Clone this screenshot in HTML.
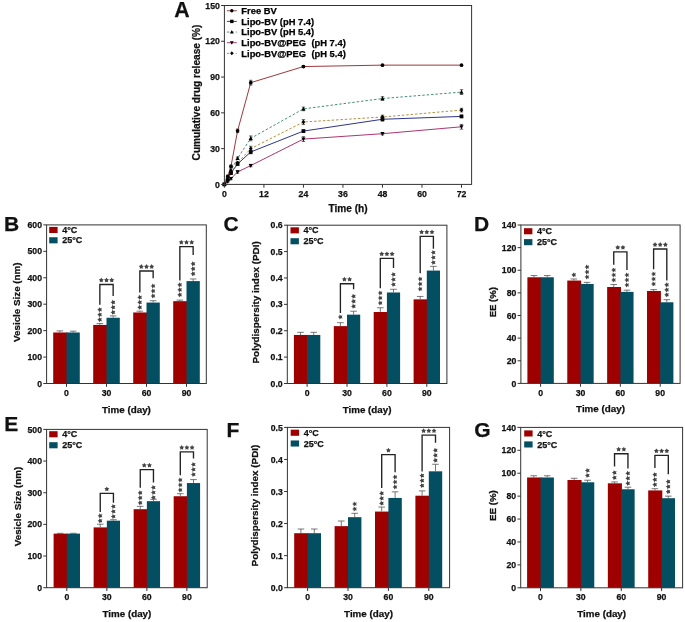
<!DOCTYPE html><html><head><meta charset="utf-8"><style>html,body{margin:0;padding:0;background:#fff;}svg{display:block;font-family:"Liberation Sans", sans-serif;will-change:transform;}</style></head><body>
<svg width="685" height="622" viewBox="0 0 685 622">
<rect width="685" height="622" fill="#fff"/>
<rect x="53.20" y="332.48" width="14.00" height="51.02" fill="#9e0000"/>
<line x1="59.85" y1="332.48" x2="59.85" y2="330.90" stroke="#555" stroke-width="0.8" />
<line x1="56.55" y1="330.90" x2="63.15" y2="330.90" stroke="#555" stroke-width="0.8" />
<rect x="66.50" y="332.48" width="13.30" height="51.02" fill="#044e62"/>
<line x1="73.15" y1="332.48" x2="73.15" y2="331.16" stroke="#555" stroke-width="0.8" />
<line x1="69.85" y1="331.16" x2="76.45" y2="331.16" stroke="#555" stroke-width="0.8" />
<rect x="93.20" y="324.92" width="14.00" height="58.58" fill="#9e0000"/>
<line x1="99.85" y1="324.92" x2="99.85" y2="323.60" stroke="#555" stroke-width="0.8" />
<line x1="96.55" y1="323.60" x2="103.15" y2="323.60" stroke="#555" stroke-width="0.8" />
<rect x="106.50" y="317.76" width="13.30" height="65.74" fill="#044e62"/>
<line x1="113.15" y1="317.76" x2="113.15" y2="315.91" stroke="#555" stroke-width="0.8" />
<line x1="109.85" y1="315.91" x2="116.45" y2="315.91" stroke="#555" stroke-width="0.8" />
<rect x="133.20" y="312.47" width="14.00" height="71.03" fill="#9e0000"/>
<line x1="139.85" y1="312.47" x2="139.85" y2="311.15" stroke="#555" stroke-width="0.8" />
<line x1="136.55" y1="311.15" x2="143.15" y2="311.15" stroke="#555" stroke-width="0.8" />
<rect x="146.50" y="302.56" width="13.30" height="80.94" fill="#044e62"/>
<line x1="153.15" y1="302.56" x2="153.15" y2="300.71" stroke="#555" stroke-width="0.8" />
<line x1="149.85" y1="300.71" x2="156.45" y2="300.71" stroke="#555" stroke-width="0.8" />
<rect x="173.20" y="301.16" width="14.00" height="82.34" fill="#9e0000"/>
<line x1="179.85" y1="301.16" x2="179.85" y2="300.10" stroke="#555" stroke-width="0.8" />
<line x1="176.55" y1="300.10" x2="183.15" y2="300.10" stroke="#555" stroke-width="0.8" />
<rect x="186.50" y="281.10" width="13.30" height="102.40" fill="#044e62"/>
<line x1="193.15" y1="281.10" x2="193.15" y2="278.98" stroke="#555" stroke-width="0.8" />
<line x1="189.85" y1="278.98" x2="196.45" y2="278.98" stroke="#555" stroke-width="0.8" />
<rect x="46.60" y="224.90" width="159.70" height="158.60" fill="none" stroke="#333333" stroke-width="1"/>
<line x1="43.30" y1="383.50" x2="46.60" y2="383.50" stroke="#333333" stroke-width="1" />
<text x="42.00" y="386.60" font-size="8.7" text-anchor="end" font-weight="bold" fill="#111" stroke="#111" stroke-width="0.25" >0</text>
<line x1="43.30" y1="357.07" x2="46.60" y2="357.07" stroke="#333333" stroke-width="1" />
<text x="42.00" y="360.17" font-size="8.7" text-anchor="end" font-weight="bold" fill="#111" stroke="#111" stroke-width="0.25" >100</text>
<line x1="43.30" y1="330.63" x2="46.60" y2="330.63" stroke="#333333" stroke-width="1" />
<text x="42.00" y="333.73" font-size="8.7" text-anchor="end" font-weight="bold" fill="#111" stroke="#111" stroke-width="0.25" >200</text>
<line x1="43.30" y1="304.20" x2="46.60" y2="304.20" stroke="#333333" stroke-width="1" />
<text x="42.00" y="307.30" font-size="8.7" text-anchor="end" font-weight="bold" fill="#111" stroke="#111" stroke-width="0.25" >300</text>
<line x1="43.30" y1="277.77" x2="46.60" y2="277.77" stroke="#333333" stroke-width="1" />
<text x="42.00" y="280.87" font-size="8.7" text-anchor="end" font-weight="bold" fill="#111" stroke="#111" stroke-width="0.25" >400</text>
<line x1="43.30" y1="251.33" x2="46.60" y2="251.33" stroke="#333333" stroke-width="1" />
<text x="42.00" y="254.43" font-size="8.7" text-anchor="end" font-weight="bold" fill="#111" stroke="#111" stroke-width="0.25" >500</text>
<line x1="43.30" y1="224.90" x2="46.60" y2="224.90" stroke="#333333" stroke-width="1" />
<text x="42.00" y="228.00" font-size="8.7" text-anchor="end" font-weight="bold" fill="#111" stroke="#111" stroke-width="0.25" >600</text>
<line x1="66.50" y1="383.50" x2="66.50" y2="386.80" stroke="#333333" stroke-width="1" />
<text x="66.50" y="396.10" font-size="8.7" text-anchor="middle" font-weight="bold" fill="#111" stroke="#111" stroke-width="0.25" >0</text>
<line x1="106.50" y1="383.50" x2="106.50" y2="386.80" stroke="#333333" stroke-width="1" />
<text x="106.50" y="396.10" font-size="8.7" text-anchor="middle" font-weight="bold" fill="#111" stroke="#111" stroke-width="0.25" >30</text>
<line x1="146.50" y1="383.50" x2="146.50" y2="386.80" stroke="#333333" stroke-width="1" />
<text x="146.50" y="396.10" font-size="8.7" text-anchor="middle" font-weight="bold" fill="#111" stroke="#111" stroke-width="0.25" >60</text>
<line x1="186.50" y1="383.50" x2="186.50" y2="386.80" stroke="#333333" stroke-width="1" />
<text x="186.50" y="396.10" font-size="8.7" text-anchor="middle" font-weight="bold" fill="#111" stroke="#111" stroke-width="0.25" >90</text>
<text x="126.45" y="412.50" font-size="9.2" text-anchor="middle" font-weight="bold" fill="#111" stroke="#111" stroke-width="0.25" textLength="48.8" lengthAdjust="spacingAndGlyphs">Time (day)</text>
<text x="19.60" y="302.20" font-size="9.2" text-anchor="middle" font-weight="bold" fill="#111" stroke="#111" stroke-width="0.25" textLength="79.5" lengthAdjust="spacingAndGlyphs" transform="rotate(-90 19.60 302.20)">Vesicle Size (nm)</text>
<rect x="49.20" y="226.90" width="8.40" height="6.10" fill="#9e0000"/>
<rect x="49.20" y="237.25" width="8.40" height="6.10" fill="#044e62"/>
<text x="62.20" y="233.00" font-size="9.0" text-anchor="start" font-weight="bold" fill="#111" stroke="#111" stroke-width="0.25" >4°C</text>
<text x="62.20" y="243.35" font-size="9.0" text-anchor="start" font-weight="bold" fill="#111" stroke="#111" stroke-width="0.25" >25°C</text>
<text x="4.00" y="230.60" font-size="21" text-anchor="start" font-weight="bold" fill="#111" stroke="#111" stroke-width="0.25" >B</text>
<polyline points="99.85,304.80 99.85,284.50 113.15,284.50 113.15,295.90" fill="none" stroke="#222" stroke-width="1.35"/>
<polygon points="101.30,277.60 102.14,279.04 103.77,279.40 102.66,280.64 102.83,282.30 101.30,281.63 99.77,282.30 99.94,280.64 98.83,279.40 100.46,279.04" fill="#444"/>
<polygon points="106.50,277.60 107.34,279.04 108.97,279.40 107.86,280.64 108.03,282.30 106.50,281.63 104.97,282.30 105.14,280.64 104.03,279.40 105.66,279.04" fill="#444"/>
<polygon points="111.70,277.60 112.54,279.04 114.17,279.40 113.06,280.64 113.23,282.30 111.70,281.63 110.17,282.30 110.34,280.64 109.23,279.40 110.86,279.04" fill="#444"/>
<polygon points="97.25,319.70 98.69,318.86 99.05,317.23 100.29,318.34 101.95,318.17 101.28,319.70 101.95,321.23 100.29,321.06 99.05,322.17 98.69,320.54" fill="#444"/>
<polygon points="97.25,314.70 98.69,313.86 99.05,312.23 100.29,313.34 101.95,313.17 101.28,314.70 101.95,316.23 100.29,316.06 99.05,317.17 98.69,315.54" fill="#444"/>
<polygon points="97.25,309.70 98.69,308.86 99.05,307.23 100.29,308.34 101.95,308.17 101.28,309.70 101.95,311.23 100.29,311.06 99.05,312.17 98.69,310.54" fill="#444"/>
<polygon points="110.55,312.30 111.99,311.46 112.35,309.83 113.59,310.94 115.25,310.77 114.58,312.30 115.25,313.83 113.59,313.66 112.35,314.77 111.99,313.14" fill="#444"/>
<polygon points="110.55,307.30 111.99,306.46 112.35,304.83 113.59,305.94 115.25,305.77 114.58,307.30 115.25,308.83 113.59,308.66 112.35,309.77 111.99,308.14" fill="#444"/>
<polygon points="110.55,302.30 111.99,301.46 112.35,299.83 113.59,300.94 115.25,300.77 114.58,302.30 115.25,303.83 113.59,303.66 112.35,304.77 111.99,303.14" fill="#444"/>
<polyline points="139.85,292.40 139.85,271.00 153.15,271.00 153.15,278.30" fill="none" stroke="#222" stroke-width="1.35"/>
<polygon points="141.30,264.10 142.14,265.54 143.77,265.90 142.66,267.14 142.83,268.80 141.30,268.13 139.77,268.80 139.94,267.14 138.83,265.90 140.46,265.54" fill="#444"/>
<polygon points="146.50,264.10 147.34,265.54 148.97,265.90 147.86,267.14 148.03,268.80 146.50,268.13 144.97,268.80 145.14,267.14 144.03,265.90 145.66,265.54" fill="#444"/>
<polygon points="151.70,264.10 152.54,265.54 154.17,265.90 153.06,267.14 153.23,268.80 151.70,268.13 150.17,268.80 150.34,267.14 149.23,265.90 150.86,265.54" fill="#444"/>
<polygon points="137.25,307.30 138.69,306.46 139.05,304.83 140.29,305.94 141.95,305.77 141.28,307.30 141.95,308.83 140.29,308.66 139.05,309.77 138.69,308.14" fill="#444"/>
<polygon points="137.25,302.30 138.69,301.46 139.05,299.83 140.29,300.94 141.95,300.77 141.28,302.30 141.95,303.83 140.29,303.66 139.05,304.77 138.69,303.14" fill="#444"/>
<polygon points="137.25,297.30 138.69,296.46 139.05,294.83 140.29,295.94 141.95,295.77 141.28,297.30 141.95,298.83 140.29,298.66 139.05,299.77 138.69,298.14" fill="#444"/>
<polygon points="150.55,296.00 151.99,295.16 152.35,293.53 153.59,294.64 155.25,294.47 154.58,296.00 155.25,297.53 153.59,297.36 152.35,298.47 151.99,296.84" fill="#444"/>
<polygon points="150.55,291.00 151.99,290.16 152.35,288.53 153.59,289.64 155.25,289.47 154.58,291.00 155.25,292.53 153.59,292.36 152.35,293.47 151.99,291.84" fill="#444"/>
<polygon points="150.55,286.00 151.99,285.16 152.35,283.53 153.59,284.64 155.25,284.47 154.58,286.00 155.25,287.53 153.59,287.36 152.35,288.47 151.99,286.84" fill="#444"/>
<polyline points="179.85,280.40 179.85,246.60 193.15,246.60 193.15,254.90" fill="none" stroke="#222" stroke-width="1.35"/>
<polygon points="181.30,239.70 182.14,241.14 183.77,241.50 182.66,242.74 182.83,244.40 181.30,243.73 179.77,244.40 179.94,242.74 178.83,241.50 180.46,241.14" fill="#444"/>
<polygon points="186.50,239.70 187.34,241.14 188.97,241.50 187.86,242.74 188.03,244.40 186.50,243.73 184.97,244.40 185.14,242.74 184.03,241.50 185.66,241.14" fill="#444"/>
<polygon points="191.70,239.70 192.54,241.14 194.17,241.50 193.06,242.74 193.23,244.40 191.70,243.73 190.17,244.40 190.34,242.74 189.23,241.50 190.86,241.14" fill="#444"/>
<polygon points="177.25,294.80 178.69,293.96 179.05,292.33 180.29,293.44 181.95,293.27 181.28,294.80 181.95,296.33 180.29,296.16 179.05,297.27 178.69,295.64" fill="#444"/>
<polygon points="177.25,289.80 178.69,288.96 179.05,287.33 180.29,288.44 181.95,288.27 181.28,289.80 181.95,291.33 180.29,291.16 179.05,292.27 178.69,290.64" fill="#444"/>
<polygon points="177.25,284.80 178.69,283.96 179.05,282.33 180.29,283.44 181.95,283.27 181.28,284.80 181.95,286.33 180.29,286.16 179.05,287.27 178.69,285.64" fill="#444"/>
<polygon points="190.55,273.80 191.99,272.96 192.35,271.33 193.59,272.44 195.25,272.27 194.58,273.80 195.25,275.33 193.59,275.16 192.35,276.27 191.99,274.64" fill="#444"/>
<polygon points="190.55,268.80 191.99,267.96 192.35,266.33 193.59,267.44 195.25,267.27 194.58,268.80 195.25,270.33 193.59,270.16 192.35,271.27 191.99,269.64" fill="#444"/>
<polygon points="190.55,263.80 191.99,262.96 192.35,261.33 193.59,262.44 195.25,262.27 194.58,263.80 195.25,265.33 193.59,265.16 192.35,266.27 191.99,264.64" fill="#444"/>
<rect x="293.90" y="334.95" width="13.90" height="48.55" fill="#9e0000"/>
<line x1="300.50" y1="334.95" x2="300.50" y2="332.32" stroke="#555" stroke-width="0.8" />
<line x1="297.20" y1="332.32" x2="303.80" y2="332.32" stroke="#555" stroke-width="0.8" />
<rect x="307.10" y="334.95" width="13.20" height="48.55" fill="#044e62"/>
<line x1="313.70" y1="334.95" x2="313.70" y2="332.32" stroke="#555" stroke-width="0.8" />
<line x1="310.40" y1="332.32" x2="317.00" y2="332.32" stroke="#555" stroke-width="0.8" />
<rect x="333.80" y="326.12" width="13.90" height="57.38" fill="#9e0000"/>
<line x1="340.40" y1="326.12" x2="340.40" y2="322.69" stroke="#555" stroke-width="0.8" />
<line x1="337.10" y1="322.69" x2="343.70" y2="322.69" stroke="#555" stroke-width="0.8" />
<rect x="347.00" y="314.64" width="13.20" height="68.86" fill="#044e62"/>
<line x1="353.60" y1="314.64" x2="353.60" y2="311.21" stroke="#555" stroke-width="0.8" />
<line x1="350.30" y1="311.21" x2="356.90" y2="311.21" stroke="#555" stroke-width="0.8" />
<rect x="373.70" y="312.00" width="13.90" height="71.50" fill="#9e0000"/>
<line x1="380.30" y1="312.00" x2="380.30" y2="307.78" stroke="#555" stroke-width="0.8" />
<line x1="377.00" y1="307.78" x2="383.60" y2="307.78" stroke="#555" stroke-width="0.8" />
<rect x="386.90" y="292.48" width="13.20" height="91.02" fill="#044e62"/>
<line x1="393.50" y1="292.48" x2="393.50" y2="289.31" stroke="#555" stroke-width="0.8" />
<line x1="390.20" y1="289.31" x2="396.80" y2="289.31" stroke="#555" stroke-width="0.8" />
<rect x="413.60" y="299.34" width="13.90" height="84.16" fill="#9e0000"/>
<line x1="420.20" y1="299.34" x2="420.20" y2="296.44" stroke="#555" stroke-width="0.8" />
<line x1="416.90" y1="296.44" x2="423.50" y2="296.44" stroke="#555" stroke-width="0.8" />
<rect x="426.80" y="270.58" width="13.20" height="112.92" fill="#044e62"/>
<line x1="433.40" y1="270.58" x2="433.40" y2="266.36" stroke="#555" stroke-width="0.8" />
<line x1="430.10" y1="266.36" x2="436.70" y2="266.36" stroke="#555" stroke-width="0.8" />
<rect x="287.30" y="225.20" width="159.60" height="158.30" fill="none" stroke="#333333" stroke-width="1"/>
<line x1="284.00" y1="383.50" x2="287.30" y2="383.50" stroke="#333333" stroke-width="1" />
<text x="282.70" y="386.60" font-size="8.7" text-anchor="end" font-weight="bold" fill="#111" stroke="#111" stroke-width="0.25" >0.0</text>
<line x1="284.00" y1="357.12" x2="287.30" y2="357.12" stroke="#333333" stroke-width="1" />
<text x="282.70" y="360.22" font-size="8.7" text-anchor="end" font-weight="bold" fill="#111" stroke="#111" stroke-width="0.25" >0.1</text>
<line x1="284.00" y1="330.73" x2="287.30" y2="330.73" stroke="#333333" stroke-width="1" />
<text x="282.70" y="333.83" font-size="8.7" text-anchor="end" font-weight="bold" fill="#111" stroke="#111" stroke-width="0.25" >0.2</text>
<line x1="284.00" y1="304.35" x2="287.30" y2="304.35" stroke="#333333" stroke-width="1" />
<text x="282.70" y="307.45" font-size="8.7" text-anchor="end" font-weight="bold" fill="#111" stroke="#111" stroke-width="0.25" >0.3</text>
<line x1="284.00" y1="277.97" x2="287.30" y2="277.97" stroke="#333333" stroke-width="1" />
<text x="282.70" y="281.07" font-size="8.7" text-anchor="end" font-weight="bold" fill="#111" stroke="#111" stroke-width="0.25" >0.4</text>
<line x1="284.00" y1="251.58" x2="287.30" y2="251.58" stroke="#333333" stroke-width="1" />
<text x="282.70" y="254.68" font-size="8.7" text-anchor="end" font-weight="bold" fill="#111" stroke="#111" stroke-width="0.25" >0.5</text>
<line x1="284.00" y1="225.20" x2="287.30" y2="225.20" stroke="#333333" stroke-width="1" />
<text x="282.70" y="228.30" font-size="8.7" text-anchor="end" font-weight="bold" fill="#111" stroke="#111" stroke-width="0.25" >0.6</text>
<line x1="307.10" y1="383.50" x2="307.10" y2="386.80" stroke="#333333" stroke-width="1" />
<text x="307.10" y="396.10" font-size="8.7" text-anchor="middle" font-weight="bold" fill="#111" stroke="#111" stroke-width="0.25" >0</text>
<line x1="347.00" y1="383.50" x2="347.00" y2="386.80" stroke="#333333" stroke-width="1" />
<text x="347.00" y="396.10" font-size="8.7" text-anchor="middle" font-weight="bold" fill="#111" stroke="#111" stroke-width="0.25" >30</text>
<line x1="386.90" y1="383.50" x2="386.90" y2="386.80" stroke="#333333" stroke-width="1" />
<text x="386.90" y="396.10" font-size="8.7" text-anchor="middle" font-weight="bold" fill="#111" stroke="#111" stroke-width="0.25" >60</text>
<line x1="426.80" y1="383.50" x2="426.80" y2="386.80" stroke="#333333" stroke-width="1" />
<text x="426.80" y="396.10" font-size="8.7" text-anchor="middle" font-weight="bold" fill="#111" stroke="#111" stroke-width="0.25" >90</text>
<text x="367.10" y="412.50" font-size="9.2" text-anchor="middle" font-weight="bold" fill="#111" stroke="#111" stroke-width="0.25" textLength="48.8" lengthAdjust="spacingAndGlyphs">Time (day)</text>
<text x="259.30" y="302.35" font-size="9.2" text-anchor="middle" font-weight="bold" fill="#111" stroke="#111" stroke-width="0.25" textLength="122.3" lengthAdjust="spacingAndGlyphs" transform="rotate(-90 259.30 302.35)">Polydispersity index (PDI)</text>
<rect x="290.50" y="227.30" width="8.40" height="6.10" fill="#9e0000"/>
<rect x="290.50" y="238.20" width="8.40" height="6.10" fill="#044e62"/>
<text x="303.50" y="233.40" font-size="9.0" text-anchor="start" font-weight="bold" fill="#111" stroke="#111" stroke-width="0.25" >4°C</text>
<text x="303.50" y="244.30" font-size="9.0" text-anchor="start" font-weight="bold" fill="#111" stroke="#111" stroke-width="0.25" >25°C</text>
<text x="223.50" y="231.00" font-size="21" text-anchor="start" font-weight="bold" fill="#111" stroke="#111" stroke-width="0.25" >C</text>
<polyline points="340.40,312.90 340.40,283.70 353.60,283.70 353.60,289.20" fill="none" stroke="#222" stroke-width="1.35"/>
<polygon points="344.40,276.80 345.24,278.24 346.87,278.60 345.76,279.84 345.93,281.50 344.40,280.83 342.87,281.50 343.04,279.84 341.93,278.60 343.56,278.24" fill="#444"/>
<polygon points="349.60,276.80 350.44,278.24 352.07,278.60 350.96,279.84 351.13,281.50 349.60,280.83 348.07,281.50 348.24,279.84 347.13,278.60 348.76,278.24" fill="#444"/>
<polygon points="337.80,317.00 339.24,316.16 339.60,314.53 340.84,315.64 342.50,315.47 341.83,317.00 342.50,318.53 340.84,318.36 339.60,319.47 339.24,317.84" fill="#444"/>
<polygon points="351.00,306.30 352.44,305.46 352.80,303.83 354.04,304.94 355.70,304.77 355.03,306.30 355.70,307.83 354.04,307.66 352.80,308.77 352.44,307.14" fill="#444"/>
<polygon points="351.00,301.30 352.44,300.46 352.80,298.83 354.04,299.94 355.70,299.77 355.03,301.30 355.70,302.83 354.04,302.66 352.80,303.77 352.44,302.14" fill="#444"/>
<polygon points="351.00,296.30 352.44,295.46 352.80,293.83 354.04,294.94 355.70,294.77 355.03,296.30 355.70,297.83 354.04,297.66 352.80,298.77 352.44,297.14" fill="#444"/>
<polyline points="380.30,288.30 380.30,258.30 393.50,258.30 393.50,268.00" fill="none" stroke="#222" stroke-width="1.35"/>
<polygon points="381.70,251.40 382.54,252.84 384.17,253.20 383.06,254.44 383.23,256.10 381.70,255.43 380.17,256.10 380.34,254.44 379.23,253.20 380.86,252.84" fill="#444"/>
<polygon points="386.90,251.40 387.74,252.84 389.37,253.20 388.26,254.44 388.43,256.10 386.90,255.43 385.37,256.10 385.54,254.44 384.43,253.20 386.06,252.84" fill="#444"/>
<polygon points="392.10,251.40 392.94,252.84 394.57,253.20 393.46,254.44 393.63,256.10 392.10,255.43 390.57,256.10 390.74,254.44 389.63,253.20 391.26,252.84" fill="#444"/>
<polygon points="377.70,303.00 379.14,302.16 379.50,300.53 380.74,301.64 382.40,301.47 381.73,303.00 382.40,304.53 380.74,304.36 379.50,305.47 379.14,303.84" fill="#444"/>
<polygon points="377.70,298.00 379.14,297.16 379.50,295.53 380.74,296.64 382.40,296.47 381.73,298.00 382.40,299.53 380.74,299.36 379.50,300.47 379.14,298.84" fill="#444"/>
<polygon points="377.70,293.00 379.14,292.16 379.50,290.53 380.74,291.64 382.40,291.47 381.73,293.00 382.40,294.53 380.74,294.36 379.50,295.47 379.14,293.84" fill="#444"/>
<polygon points="390.90,284.50 392.34,283.66 392.70,282.03 393.94,283.14 395.60,282.97 394.93,284.50 395.60,286.03 393.94,285.86 392.70,286.97 392.34,285.34" fill="#444"/>
<polygon points="390.90,279.50 392.34,278.66 392.70,277.03 393.94,278.14 395.60,277.97 394.93,279.50 395.60,281.03 393.94,280.86 392.70,281.97 392.34,280.34" fill="#444"/>
<polygon points="390.90,274.50 392.34,273.66 392.70,272.03 393.94,273.14 395.60,272.97 394.93,274.50 395.60,276.03 393.94,275.86 392.70,276.97 392.34,275.34" fill="#444"/>
<polyline points="420.20,273.30 420.20,236.40 433.40,236.40 433.40,248.70" fill="none" stroke="#222" stroke-width="1.35"/>
<polygon points="421.60,229.50 422.44,230.94 424.07,231.30 422.96,232.54 423.13,234.20 421.60,233.53 420.07,234.20 420.24,232.54 419.13,231.30 420.76,230.94" fill="#444"/>
<polygon points="426.80,229.50 427.64,230.94 429.27,231.30 428.16,232.54 428.33,234.20 426.80,233.53 425.27,234.20 425.44,232.54 424.33,231.30 425.96,230.94" fill="#444"/>
<polygon points="432.00,229.50 432.84,230.94 434.47,231.30 433.36,232.54 433.53,234.20 432.00,233.53 430.47,234.20 430.64,232.54 429.53,231.30 431.16,230.94" fill="#444"/>
<polygon points="417.60,289.00 419.04,288.16 419.40,286.53 420.64,287.64 422.30,287.47 421.63,289.00 422.30,290.53 420.64,290.36 419.40,291.47 419.04,289.84" fill="#444"/>
<polygon points="417.60,284.00 419.04,283.16 419.40,281.53 420.64,282.64 422.30,282.47 421.63,284.00 422.30,285.53 420.64,285.36 419.40,286.47 419.04,284.84" fill="#444"/>
<polygon points="417.60,279.00 419.04,278.16 419.40,276.53 420.64,277.64 422.30,277.47 421.63,279.00 422.30,280.53 420.64,280.36 419.40,281.47 419.04,279.84" fill="#444"/>
<polygon points="430.80,262.50 432.24,261.66 432.60,260.03 433.84,261.14 435.50,260.97 434.83,262.50 435.50,264.03 433.84,263.86 432.60,264.97 432.24,263.34" fill="#444"/>
<polygon points="430.80,257.50 432.24,256.66 432.60,255.03 433.84,256.14 435.50,255.97 434.83,257.50 435.50,259.03 433.84,258.86 432.60,259.97 432.24,258.34" fill="#444"/>
<polygon points="430.80,252.50 432.24,251.66 432.60,250.03 433.84,251.14 435.50,250.97 434.83,252.50 435.50,254.03 433.84,253.86 432.60,254.97 432.24,253.34" fill="#444"/>
<rect x="527.40" y="277.27" width="13.90" height="106.13" fill="#9e0000"/>
<line x1="534.00" y1="277.27" x2="534.00" y2="275.57" stroke="#555" stroke-width="0.8" />
<line x1="530.70" y1="275.57" x2="537.30" y2="275.57" stroke="#555" stroke-width="0.8" />
<rect x="540.60" y="277.27" width="13.20" height="106.13" fill="#044e62"/>
<line x1="547.20" y1="277.27" x2="547.20" y2="275.57" stroke="#555" stroke-width="0.8" />
<line x1="543.90" y1="275.57" x2="550.50" y2="275.57" stroke="#555" stroke-width="0.8" />
<rect x="567.27" y="280.55" width="13.90" height="102.85" fill="#9e0000"/>
<line x1="573.87" y1="280.55" x2="573.87" y2="278.97" stroke="#555" stroke-width="0.8" />
<line x1="570.57" y1="278.97" x2="577.17" y2="278.97" stroke="#555" stroke-width="0.8" />
<rect x="580.47" y="283.95" width="13.20" height="99.45" fill="#044e62"/>
<line x1="587.07" y1="283.95" x2="587.07" y2="282.36" stroke="#555" stroke-width="0.8" />
<line x1="583.77" y1="282.36" x2="590.37" y2="282.36" stroke="#555" stroke-width="0.8" />
<rect x="607.14" y="287.00" width="13.90" height="96.40" fill="#9e0000"/>
<line x1="613.74" y1="287.00" x2="613.74" y2="284.51" stroke="#555" stroke-width="0.8" />
<line x1="610.44" y1="284.51" x2="617.04" y2="284.51" stroke="#555" stroke-width="0.8" />
<rect x="620.34" y="291.87" width="13.20" height="91.53" fill="#044e62"/>
<line x1="626.94" y1="291.87" x2="626.94" y2="290.17" stroke="#555" stroke-width="0.8" />
<line x1="623.64" y1="290.17" x2="630.24" y2="290.17" stroke="#555" stroke-width="0.8" />
<rect x="647.01" y="290.96" width="13.90" height="92.44" fill="#9e0000"/>
<line x1="653.61" y1="290.96" x2="653.61" y2="289.60" stroke="#555" stroke-width="0.8" />
<line x1="650.31" y1="289.60" x2="656.91" y2="289.60" stroke="#555" stroke-width="0.8" />
<rect x="660.21" y="302.28" width="13.20" height="81.12" fill="#044e62"/>
<line x1="666.81" y1="302.28" x2="666.81" y2="299.67" stroke="#555" stroke-width="0.8" />
<line x1="663.51" y1="299.67" x2="670.11" y2="299.67" stroke="#555" stroke-width="0.8" />
<rect x="520.90" y="225.00" width="159.20" height="158.40" fill="none" stroke="#333333" stroke-width="1"/>
<line x1="517.60" y1="383.40" x2="520.90" y2="383.40" stroke="#333333" stroke-width="1" />
<text x="516.30" y="386.50" font-size="8.7" text-anchor="end" font-weight="bold" fill="#111" stroke="#111" stroke-width="0.25" >0</text>
<line x1="517.60" y1="360.77" x2="520.90" y2="360.77" stroke="#333333" stroke-width="1" />
<text x="516.30" y="363.87" font-size="8.7" text-anchor="end" font-weight="bold" fill="#111" stroke="#111" stroke-width="0.25" >20</text>
<line x1="517.60" y1="338.14" x2="520.90" y2="338.14" stroke="#333333" stroke-width="1" />
<text x="516.30" y="341.24" font-size="8.7" text-anchor="end" font-weight="bold" fill="#111" stroke="#111" stroke-width="0.25" >40</text>
<line x1="517.60" y1="315.51" x2="520.90" y2="315.51" stroke="#333333" stroke-width="1" />
<text x="516.30" y="318.61" font-size="8.7" text-anchor="end" font-weight="bold" fill="#111" stroke="#111" stroke-width="0.25" >60</text>
<line x1="517.60" y1="292.89" x2="520.90" y2="292.89" stroke="#333333" stroke-width="1" />
<text x="516.30" y="295.99" font-size="8.7" text-anchor="end" font-weight="bold" fill="#111" stroke="#111" stroke-width="0.25" >80</text>
<line x1="517.60" y1="270.26" x2="520.90" y2="270.26" stroke="#333333" stroke-width="1" />
<text x="516.30" y="273.36" font-size="8.7" text-anchor="end" font-weight="bold" fill="#111" stroke="#111" stroke-width="0.25" >100</text>
<line x1="517.60" y1="247.63" x2="520.90" y2="247.63" stroke="#333333" stroke-width="1" />
<text x="516.30" y="250.73" font-size="8.7" text-anchor="end" font-weight="bold" fill="#111" stroke="#111" stroke-width="0.25" >120</text>
<line x1="517.60" y1="225.00" x2="520.90" y2="225.00" stroke="#333333" stroke-width="1" />
<text x="516.30" y="228.10" font-size="8.7" text-anchor="end" font-weight="bold" fill="#111" stroke="#111" stroke-width="0.25" >140</text>
<line x1="540.60" y1="383.40" x2="540.60" y2="386.70" stroke="#333333" stroke-width="1" />
<text x="540.60" y="396.00" font-size="8.7" text-anchor="middle" font-weight="bold" fill="#111" stroke="#111" stroke-width="0.25" >0</text>
<line x1="580.47" y1="383.40" x2="580.47" y2="386.70" stroke="#333333" stroke-width="1" />
<text x="580.47" y="396.00" font-size="8.7" text-anchor="middle" font-weight="bold" fill="#111" stroke="#111" stroke-width="0.25" >30</text>
<line x1="620.34" y1="383.40" x2="620.34" y2="386.70" stroke="#333333" stroke-width="1" />
<text x="620.34" y="396.00" font-size="8.7" text-anchor="middle" font-weight="bold" fill="#111" stroke="#111" stroke-width="0.25" >60</text>
<line x1="660.21" y1="383.40" x2="660.21" y2="386.70" stroke="#333333" stroke-width="1" />
<text x="660.21" y="396.00" font-size="8.7" text-anchor="middle" font-weight="bold" fill="#111" stroke="#111" stroke-width="0.25" >90</text>
<text x="600.50" y="412.40" font-size="9.2" text-anchor="middle" font-weight="bold" fill="#111" stroke="#111" stroke-width="0.25" textLength="48.8" lengthAdjust="spacingAndGlyphs">Time (day)</text>
<text x="496.00" y="302.20" font-size="9.2" text-anchor="middle" font-weight="bold" fill="#111" stroke="#111" stroke-width="0.25" textLength="30.3" lengthAdjust="spacingAndGlyphs" transform="rotate(-90 496.00 302.20)">EE (%)</text>
<rect x="524.00" y="228.20" width="8.40" height="6.10" fill="#9e0000"/>
<rect x="524.00" y="239.10" width="8.40" height="6.10" fill="#044e62"/>
<text x="537.00" y="234.30" font-size="9.0" text-anchor="start" font-weight="bold" fill="#111" stroke="#111" stroke-width="0.25" >4°C</text>
<text x="537.00" y="245.20" font-size="9.0" text-anchor="start" font-weight="bold" fill="#111" stroke="#111" stroke-width="0.25" >25°C</text>
<text x="474.00" y="230.80" font-size="21" text-anchor="start" font-weight="bold" fill="#111" stroke="#111" stroke-width="0.25" >D</text>
<polygon points="571.27,274.90 572.71,274.06 573.07,272.43 574.31,273.54 575.97,273.37 575.30,274.90 575.97,276.43 574.31,276.26 573.07,277.37 572.71,275.74" fill="#444"/>
<polygon points="584.47,277.00 585.91,276.16 586.27,274.53 587.51,275.64 589.17,275.47 588.50,277.00 589.17,278.53 587.51,278.36 586.27,279.47 585.91,277.84" fill="#444"/>
<polygon points="584.47,272.00 585.91,271.16 586.27,269.53 587.51,270.64 589.17,270.47 588.50,272.00 589.17,273.53 587.51,273.36 586.27,274.47 585.91,272.84" fill="#444"/>
<polygon points="584.47,267.00 585.91,266.16 586.27,264.53 587.51,265.64 589.17,265.47 588.50,267.00 589.17,268.53 587.51,268.36 586.27,269.47 585.91,267.84" fill="#444"/>
<polyline points="613.74,264.80 613.74,251.80 626.94,251.80 626.94,270.00" fill="none" stroke="#222" stroke-width="1.35"/>
<polygon points="617.74,244.90 618.58,246.34 620.21,246.70 619.10,247.94 619.27,249.60 617.74,248.93 616.21,249.60 616.38,247.94 615.27,246.70 616.90,246.34" fill="#444"/>
<polygon points="622.94,244.90 623.78,246.34 625.41,246.70 624.30,247.94 624.47,249.60 622.94,248.93 621.41,249.60 621.58,247.94 620.47,246.70 622.10,246.34" fill="#444"/>
<polygon points="611.14,280.00 612.58,279.16 612.94,277.53 614.18,278.64 615.84,278.47 615.17,280.00 615.84,281.53 614.18,281.36 612.94,282.47 612.58,280.84" fill="#444"/>
<polygon points="611.14,275.00 612.58,274.16 612.94,272.53 614.18,273.64 615.84,273.47 615.17,275.00 615.84,276.53 614.18,276.36 612.94,277.47 612.58,275.84" fill="#444"/>
<polygon points="611.14,270.00 612.58,269.16 612.94,267.53 614.18,268.64 615.84,268.47 615.17,270.00 615.84,271.53 614.18,271.36 612.94,272.47 612.58,270.84" fill="#444"/>
<polygon points="624.34,285.00 625.78,284.16 626.14,282.53 627.38,283.64 629.04,283.47 628.37,285.00 629.04,286.53 627.38,286.36 626.14,287.47 625.78,285.84" fill="#444"/>
<polygon points="624.34,280.00 625.78,279.16 626.14,277.53 627.38,278.64 629.04,278.47 628.37,280.00 629.04,281.53 627.38,281.36 626.14,282.47 625.78,280.84" fill="#444"/>
<polygon points="624.34,275.00 625.78,274.16 626.14,272.53 627.38,273.64 629.04,273.47 628.37,275.00 629.04,276.53 627.38,276.36 626.14,277.47 625.78,275.84" fill="#444"/>
<polyline points="653.61,269.20 653.61,249.00 666.81,249.00 666.81,280.50" fill="none" stroke="#222" stroke-width="1.35"/>
<polygon points="655.01,242.10 655.85,243.54 657.48,243.90 656.37,245.14 656.54,246.80 655.01,246.13 653.48,246.80 653.65,245.14 652.54,243.90 654.17,243.54" fill="#444"/>
<polygon points="660.21,242.10 661.05,243.54 662.68,243.90 661.57,245.14 661.74,246.80 660.21,246.13 658.68,246.80 658.85,245.14 657.74,243.90 659.37,243.54" fill="#444"/>
<polygon points="665.41,242.10 666.25,243.54 667.88,243.90 666.77,245.14 666.94,246.80 665.41,246.13 663.88,246.80 664.05,245.14 662.94,243.90 664.57,243.54" fill="#444"/>
<polygon points="651.01,284.00 652.45,283.16 652.81,281.53 654.05,282.64 655.71,282.47 655.04,284.00 655.71,285.53 654.05,285.36 652.81,286.47 652.45,284.84" fill="#444"/>
<polygon points="651.01,279.00 652.45,278.16 652.81,276.53 654.05,277.64 655.71,277.47 655.04,279.00 655.71,280.53 654.05,280.36 652.81,281.47 652.45,279.84" fill="#444"/>
<polygon points="651.01,274.00 652.45,273.16 652.81,271.53 654.05,272.64 655.71,272.47 655.04,274.00 655.71,275.53 654.05,275.36 652.81,276.47 652.45,274.84" fill="#444"/>
<polygon points="664.21,294.80 665.65,293.96 666.01,292.33 667.25,293.44 668.91,293.27 668.24,294.80 668.91,296.33 667.25,296.16 666.01,297.27 665.65,295.64" fill="#444"/>
<polygon points="664.21,289.80 665.65,288.96 666.01,287.33 667.25,288.44 668.91,288.27 668.24,289.80 668.91,291.33 667.25,291.16 666.01,292.27 665.65,290.64" fill="#444"/>
<polygon points="664.21,284.80 665.65,283.96 666.01,282.33 667.25,283.44 668.91,283.27 668.24,284.80 668.91,286.33 667.25,286.16 666.01,287.27 665.65,285.64" fill="#444"/>
<rect x="53.60" y="533.62" width="13.90" height="54.08" fill="#9e0000"/>
<line x1="60.20" y1="533.62" x2="60.20" y2="533.31" stroke="#555" stroke-width="0.8" />
<line x1="56.90" y1="533.31" x2="63.50" y2="533.31" stroke="#555" stroke-width="0.8" />
<rect x="66.80" y="533.62" width="13.20" height="54.08" fill="#044e62"/>
<line x1="73.40" y1="533.62" x2="73.40" y2="533.31" stroke="#555" stroke-width="0.8" />
<line x1="70.10" y1="533.31" x2="76.70" y2="533.31" stroke="#555" stroke-width="0.8" />
<rect x="93.63" y="527.39" width="13.90" height="60.31" fill="#9e0000"/>
<line x1="100.23" y1="527.39" x2="100.23" y2="524.22" stroke="#555" stroke-width="0.8" />
<line x1="96.93" y1="524.22" x2="103.53" y2="524.22" stroke="#555" stroke-width="0.8" />
<rect x="106.83" y="520.68" width="13.20" height="67.02" fill="#044e62"/>
<line x1="113.43" y1="520.68" x2="113.43" y2="519.73" stroke="#555" stroke-width="0.8" />
<line x1="110.13" y1="519.73" x2="116.73" y2="519.73" stroke="#555" stroke-width="0.8" />
<rect x="133.66" y="509.18" width="13.90" height="78.52" fill="#9e0000"/>
<line x1="140.26" y1="509.18" x2="140.26" y2="506.33" stroke="#555" stroke-width="0.8" />
<line x1="136.96" y1="506.33" x2="143.56" y2="506.33" stroke="#555" stroke-width="0.8" />
<rect x="146.86" y="501.17" width="13.20" height="86.53" fill="#044e62"/>
<line x1="153.46" y1="501.17" x2="153.46" y2="499.27" stroke="#555" stroke-width="0.8" />
<line x1="150.16" y1="499.27" x2="156.76" y2="499.27" stroke="#555" stroke-width="0.8" />
<rect x="173.69" y="496.23" width="13.90" height="91.47" fill="#9e0000"/>
<line x1="180.29" y1="496.23" x2="180.29" y2="493.70" stroke="#555" stroke-width="0.8" />
<line x1="176.99" y1="493.70" x2="183.59" y2="493.70" stroke="#555" stroke-width="0.8" />
<rect x="186.89" y="483.06" width="13.20" height="104.64" fill="#044e62"/>
<line x1="193.49" y1="483.06" x2="193.49" y2="479.58" stroke="#555" stroke-width="0.8" />
<line x1="190.19" y1="479.58" x2="196.79" y2="479.58" stroke="#555" stroke-width="0.8" />
<rect x="46.60" y="429.40" width="160.60" height="158.30" fill="none" stroke="#333333" stroke-width="1"/>
<line x1="43.30" y1="587.70" x2="46.60" y2="587.70" stroke="#333333" stroke-width="1" />
<text x="42.00" y="590.80" font-size="8.7" text-anchor="end" font-weight="bold" fill="#111" stroke="#111" stroke-width="0.25" >0</text>
<line x1="43.30" y1="556.04" x2="46.60" y2="556.04" stroke="#333333" stroke-width="1" />
<text x="42.00" y="559.14" font-size="8.7" text-anchor="end" font-weight="bold" fill="#111" stroke="#111" stroke-width="0.25" >100</text>
<line x1="43.30" y1="524.38" x2="46.60" y2="524.38" stroke="#333333" stroke-width="1" />
<text x="42.00" y="527.48" font-size="8.7" text-anchor="end" font-weight="bold" fill="#111" stroke="#111" stroke-width="0.25" >200</text>
<line x1="43.30" y1="492.72" x2="46.60" y2="492.72" stroke="#333333" stroke-width="1" />
<text x="42.00" y="495.82" font-size="8.7" text-anchor="end" font-weight="bold" fill="#111" stroke="#111" stroke-width="0.25" >300</text>
<line x1="43.30" y1="461.06" x2="46.60" y2="461.06" stroke="#333333" stroke-width="1" />
<text x="42.00" y="464.16" font-size="8.7" text-anchor="end" font-weight="bold" fill="#111" stroke="#111" stroke-width="0.25" >400</text>
<line x1="43.30" y1="429.40" x2="46.60" y2="429.40" stroke="#333333" stroke-width="1" />
<text x="42.00" y="432.50" font-size="8.7" text-anchor="end" font-weight="bold" fill="#111" stroke="#111" stroke-width="0.25" >500</text>
<line x1="66.80" y1="587.70" x2="66.80" y2="591.00" stroke="#333333" stroke-width="1" />
<text x="66.80" y="600.30" font-size="8.7" text-anchor="middle" font-weight="bold" fill="#111" stroke="#111" stroke-width="0.25" >0</text>
<line x1="106.83" y1="587.70" x2="106.83" y2="591.00" stroke="#333333" stroke-width="1" />
<text x="106.83" y="600.30" font-size="8.7" text-anchor="middle" font-weight="bold" fill="#111" stroke="#111" stroke-width="0.25" >30</text>
<line x1="146.86" y1="587.70" x2="146.86" y2="591.00" stroke="#333333" stroke-width="1" />
<text x="146.86" y="600.30" font-size="8.7" text-anchor="middle" font-weight="bold" fill="#111" stroke="#111" stroke-width="0.25" >60</text>
<line x1="186.89" y1="587.70" x2="186.89" y2="591.00" stroke="#333333" stroke-width="1" />
<text x="186.89" y="600.30" font-size="8.7" text-anchor="middle" font-weight="bold" fill="#111" stroke="#111" stroke-width="0.25" >90</text>
<text x="126.90" y="616.70" font-size="9.2" text-anchor="middle" font-weight="bold" fill="#111" stroke="#111" stroke-width="0.25" textLength="48.8" lengthAdjust="spacingAndGlyphs">Time (day)</text>
<text x="20.60" y="506.55" font-size="9.2" text-anchor="middle" font-weight="bold" fill="#111" stroke="#111" stroke-width="0.25" textLength="79.5" lengthAdjust="spacingAndGlyphs" transform="rotate(-90 20.60 506.55)">Vesicle Size (nm)</text>
<rect x="49.20" y="431.20" width="8.40" height="6.10" fill="#9e0000"/>
<rect x="49.20" y="442.20" width="8.40" height="6.10" fill="#044e62"/>
<text x="62.20" y="437.30" font-size="9.0" text-anchor="start" font-weight="bold" fill="#111" stroke="#111" stroke-width="0.25" >4°C</text>
<text x="62.20" y="448.30" font-size="9.0" text-anchor="start" font-weight="bold" fill="#111" stroke="#111" stroke-width="0.25" >25°C</text>
<text x="4.30" y="430.50" font-size="21" text-anchor="start" font-weight="bold" fill="#111" stroke="#111" stroke-width="0.25" >E</text>
<polyline points="100.23,512.00 100.23,493.40 113.43,493.40 113.43,502.80" fill="none" stroke="#222" stroke-width="1.35"/>
<polygon points="106.83,486.50 107.67,487.94 109.30,488.30 108.19,489.54 108.36,491.20 106.83,490.53 105.30,491.20 105.47,489.54 104.36,488.30 105.99,487.94" fill="#444"/>
<polygon points="97.63,520.80 99.07,519.96 99.43,518.33 100.67,519.44 102.33,519.27 101.66,520.80 102.33,522.33 100.67,522.16 99.43,523.27 99.07,521.64" fill="#444"/>
<polygon points="97.63,515.80 99.07,514.96 99.43,513.33 100.67,514.44 102.33,514.27 101.66,515.80 102.33,517.33 100.67,517.16 99.43,518.27 99.07,516.64" fill="#444"/>
<polygon points="110.83,516.50 112.27,515.66 112.63,514.03 113.87,515.14 115.53,514.97 114.86,516.50 115.53,518.03 113.87,517.86 112.63,518.97 112.27,517.34" fill="#444"/>
<polygon points="110.83,511.50 112.27,510.66 112.63,509.03 113.87,510.14 115.53,509.97 114.86,511.50 115.53,513.03 113.87,512.86 112.63,513.97 112.27,512.34" fill="#444"/>
<polygon points="110.83,506.50 112.27,505.66 112.63,504.03 113.87,505.14 115.53,504.97 114.86,506.50 115.53,508.03 113.87,507.86 112.63,508.97 112.27,507.34" fill="#444"/>
<polyline points="140.26,487.80 140.26,469.60 153.46,469.60 153.46,482.60" fill="none" stroke="#222" stroke-width="1.35"/>
<polygon points="144.26,462.70 145.10,464.14 146.73,464.50 145.62,465.74 145.79,467.40 144.26,466.73 142.73,467.40 142.90,465.74 141.79,464.50 143.42,464.14" fill="#444"/>
<polygon points="149.46,462.70 150.30,464.14 151.93,464.50 150.82,465.74 150.99,467.40 149.46,466.73 147.93,467.40 148.10,465.74 146.99,464.50 148.62,464.14" fill="#444"/>
<polygon points="137.66,502.80 139.10,501.96 139.46,500.33 140.70,501.44 142.36,501.27 141.69,502.80 142.36,504.33 140.70,504.16 139.46,505.27 139.10,503.64" fill="#444"/>
<polygon points="137.66,497.80 139.10,496.96 139.46,495.33 140.70,496.44 142.36,496.27 141.69,497.80 142.36,499.33 140.70,499.16 139.46,500.27 139.10,498.64" fill="#444"/>
<polygon points="137.66,492.80 139.10,491.96 139.46,490.33 140.70,491.44 142.36,491.27 141.69,492.80 142.36,494.33 140.70,494.16 139.46,495.27 139.10,493.64" fill="#444"/>
<polygon points="150.86,497.50 152.30,496.66 152.66,495.03 153.90,496.14 155.56,495.97 154.89,497.50 155.56,499.03 153.90,498.86 152.66,499.97 152.30,498.34" fill="#444"/>
<polygon points="150.86,492.50 152.30,491.66 152.66,490.03 153.90,491.14 155.56,490.97 154.89,492.50 155.56,494.03 153.90,493.86 152.66,494.97 152.30,493.34" fill="#444"/>
<polygon points="150.86,487.50 152.30,486.66 152.66,485.03 153.90,486.14 155.56,485.97 154.89,487.50 155.56,489.03 153.90,488.86 152.66,489.97 152.30,488.34" fill="#444"/>
<polyline points="180.29,475.30 180.29,451.90 193.49,451.90 193.49,458.50" fill="none" stroke="#222" stroke-width="1.35"/>
<polygon points="181.69,445.00 182.53,446.44 184.16,446.80 183.05,448.04 183.22,449.70 181.69,449.03 180.16,449.70 180.33,448.04 179.22,446.80 180.85,446.44" fill="#444"/>
<polygon points="186.89,445.00 187.73,446.44 189.36,446.80 188.25,448.04 188.42,449.70 186.89,449.03 185.36,449.70 185.53,448.04 184.42,446.80 186.05,446.44" fill="#444"/>
<polygon points="192.09,445.00 192.93,446.44 194.56,446.80 193.45,448.04 193.62,449.70 192.09,449.03 190.56,449.70 190.73,448.04 189.62,446.80 191.25,446.44" fill="#444"/>
<polygon points="177.69,490.00 179.13,489.16 179.49,487.53 180.73,488.64 182.39,488.47 181.72,490.00 182.39,491.53 180.73,491.36 179.49,492.47 179.13,490.84" fill="#444"/>
<polygon points="177.69,485.00 179.13,484.16 179.49,482.53 180.73,483.64 182.39,483.47 181.72,485.00 182.39,486.53 180.73,486.36 179.49,487.47 179.13,485.84" fill="#444"/>
<polygon points="177.69,480.00 179.13,479.16 179.49,477.53 180.73,478.64 182.39,478.47 181.72,480.00 182.39,481.53 180.73,481.36 179.49,482.47 179.13,480.84" fill="#444"/>
<polygon points="190.89,474.50 192.33,473.66 192.69,472.03 193.93,473.14 195.59,472.97 194.92,474.50 195.59,476.03 193.93,475.86 192.69,476.97 192.33,475.34" fill="#444"/>
<polygon points="190.89,469.50 192.33,468.66 192.69,467.03 193.93,468.14 195.59,467.97 194.92,469.50 195.59,471.03 193.93,470.86 192.69,471.97 192.33,470.34" fill="#444"/>
<polygon points="190.89,464.50 192.33,463.66 192.69,462.03 193.93,463.14 195.59,462.97 194.92,464.50 195.59,466.03 193.93,465.86 192.69,466.97 192.33,465.34" fill="#444"/>
<rect x="294.20" y="533.20" width="14.10" height="54.50" fill="#9e0000"/>
<line x1="300.90" y1="533.20" x2="300.90" y2="529.03" stroke="#555" stroke-width="0.8" />
<line x1="297.60" y1="529.03" x2="304.20" y2="529.03" stroke="#555" stroke-width="0.8" />
<rect x="307.60" y="533.20" width="13.40" height="54.50" fill="#044e62"/>
<line x1="314.30" y1="533.20" x2="314.30" y2="529.03" stroke="#555" stroke-width="0.8" />
<line x1="311.00" y1="529.03" x2="317.60" y2="529.03" stroke="#555" stroke-width="0.8" />
<rect x="334.60" y="526.14" width="14.10" height="61.56" fill="#9e0000"/>
<line x1="341.30" y1="526.14" x2="341.30" y2="521.02" stroke="#555" stroke-width="0.8" />
<line x1="338.00" y1="521.02" x2="344.60" y2="521.02" stroke="#555" stroke-width="0.8" />
<rect x="348.00" y="517.17" width="13.40" height="70.53" fill="#044e62"/>
<line x1="354.70" y1="517.17" x2="354.70" y2="513.32" stroke="#555" stroke-width="0.8" />
<line x1="351.40" y1="513.32" x2="358.00" y2="513.32" stroke="#555" stroke-width="0.8" />
<rect x="375.00" y="511.56" width="14.10" height="76.14" fill="#9e0000"/>
<line x1="381.70" y1="511.56" x2="381.70" y2="507.07" stroke="#555" stroke-width="0.8" />
<line x1="378.40" y1="507.07" x2="385.00" y2="507.07" stroke="#555" stroke-width="0.8" />
<rect x="388.40" y="497.93" width="13.40" height="89.77" fill="#044e62"/>
<line x1="395.10" y1="497.93" x2="395.10" y2="491.84" stroke="#555" stroke-width="0.8" />
<line x1="391.80" y1="491.84" x2="398.40" y2="491.84" stroke="#555" stroke-width="0.8" />
<rect x="415.40" y="495.69" width="14.10" height="92.01" fill="#9e0000"/>
<line x1="422.10" y1="495.69" x2="422.10" y2="490.88" stroke="#555" stroke-width="0.8" />
<line x1="418.80" y1="490.88" x2="425.40" y2="490.88" stroke="#555" stroke-width="0.8" />
<rect x="428.80" y="471.32" width="13.40" height="116.38" fill="#044e62"/>
<line x1="435.50" y1="471.32" x2="435.50" y2="464.27" stroke="#555" stroke-width="0.8" />
<line x1="432.20" y1="464.27" x2="438.80" y2="464.27" stroke="#555" stroke-width="0.8" />
<rect x="287.40" y="427.40" width="162.20" height="160.30" fill="none" stroke="#333333" stroke-width="1"/>
<line x1="284.10" y1="587.70" x2="287.40" y2="587.70" stroke="#333333" stroke-width="1" />
<text x="282.80" y="590.80" font-size="8.7" text-anchor="end" font-weight="bold" fill="#111" stroke="#111" stroke-width="0.25" >0.0</text>
<line x1="284.10" y1="555.64" x2="287.40" y2="555.64" stroke="#333333" stroke-width="1" />
<text x="282.80" y="558.74" font-size="8.7" text-anchor="end" font-weight="bold" fill="#111" stroke="#111" stroke-width="0.25" >0.1</text>
<line x1="284.10" y1="523.58" x2="287.40" y2="523.58" stroke="#333333" stroke-width="1" />
<text x="282.80" y="526.68" font-size="8.7" text-anchor="end" font-weight="bold" fill="#111" stroke="#111" stroke-width="0.25" >0.2</text>
<line x1="284.10" y1="491.52" x2="287.40" y2="491.52" stroke="#333333" stroke-width="1" />
<text x="282.80" y="494.62" font-size="8.7" text-anchor="end" font-weight="bold" fill="#111" stroke="#111" stroke-width="0.25" >0.3</text>
<line x1="284.10" y1="459.46" x2="287.40" y2="459.46" stroke="#333333" stroke-width="1" />
<text x="282.80" y="462.56" font-size="8.7" text-anchor="end" font-weight="bold" fill="#111" stroke="#111" stroke-width="0.25" >0.4</text>
<line x1="284.10" y1="427.40" x2="287.40" y2="427.40" stroke="#333333" stroke-width="1" />
<text x="282.80" y="430.50" font-size="8.7" text-anchor="end" font-weight="bold" fill="#111" stroke="#111" stroke-width="0.25" >0.5</text>
<line x1="307.60" y1="587.70" x2="307.60" y2="591.00" stroke="#333333" stroke-width="1" />
<text x="307.60" y="600.30" font-size="8.7" text-anchor="middle" font-weight="bold" fill="#111" stroke="#111" stroke-width="0.25" >0</text>
<line x1="348.00" y1="587.70" x2="348.00" y2="591.00" stroke="#333333" stroke-width="1" />
<text x="348.00" y="600.30" font-size="8.7" text-anchor="middle" font-weight="bold" fill="#111" stroke="#111" stroke-width="0.25" >30</text>
<line x1="388.40" y1="587.70" x2="388.40" y2="591.00" stroke="#333333" stroke-width="1" />
<text x="388.40" y="600.30" font-size="8.7" text-anchor="middle" font-weight="bold" fill="#111" stroke="#111" stroke-width="0.25" >60</text>
<line x1="428.80" y1="587.70" x2="428.80" y2="591.00" stroke="#333333" stroke-width="1" />
<text x="428.80" y="600.30" font-size="8.7" text-anchor="middle" font-weight="bold" fill="#111" stroke="#111" stroke-width="0.25" >90</text>
<text x="368.50" y="616.70" font-size="9.2" text-anchor="middle" font-weight="bold" fill="#111" stroke="#111" stroke-width="0.25" textLength="48.8" lengthAdjust="spacingAndGlyphs">Time (day)</text>
<text x="257.80" y="505.55" font-size="9.2" text-anchor="middle" font-weight="bold" fill="#111" stroke="#111" stroke-width="0.25" textLength="121.8" lengthAdjust="spacingAndGlyphs" transform="rotate(-90 257.80 505.55)">Polydispersity index (PDI)</text>
<rect x="290.70" y="429.70" width="8.40" height="6.10" fill="#9e0000"/>
<rect x="290.70" y="440.45" width="8.40" height="6.10" fill="#044e62"/>
<text x="303.70" y="435.80" font-size="9.0" text-anchor="start" font-weight="bold" fill="#111" stroke="#111" stroke-width="0.25" >4°C</text>
<text x="303.70" y="446.55" font-size="9.0" text-anchor="start" font-weight="bold" fill="#111" stroke="#111" stroke-width="0.25" >25°C</text>
<text x="226.50" y="437.00" font-size="21" text-anchor="start" font-weight="bold" fill="#111" stroke="#111" stroke-width="0.25" >F</text>
<polygon points="352.10,509.00 353.54,508.16 353.90,506.53 355.14,507.64 356.80,507.47 356.13,509.00 356.80,510.53 355.14,510.36 353.90,511.47 353.54,509.84" fill="#444"/>
<polygon points="352.10,504.00 353.54,503.16 353.90,501.53 355.14,502.64 356.80,502.47 356.13,504.00 356.80,505.53 355.14,505.36 353.90,506.47 353.54,504.84" fill="#444"/>
<polyline points="381.70,488.00 381.70,454.60 395.10,454.60 395.10,472.20" fill="none" stroke="#222" stroke-width="1.35"/>
<polygon points="388.40,447.70 389.24,449.14 390.87,449.50 389.76,450.74 389.93,452.40 388.40,451.73 386.87,452.40 387.04,450.74 385.93,449.50 387.56,449.14" fill="#444"/>
<polygon points="379.10,503.30 380.54,502.46 380.90,500.83 382.14,501.94 383.80,501.77 383.13,503.30 383.80,504.83 382.14,504.66 380.90,505.77 380.54,504.14" fill="#444"/>
<polygon points="379.10,498.30 380.54,497.46 380.90,495.83 382.14,496.94 383.80,496.77 383.13,498.30 383.80,499.83 382.14,499.66 380.90,500.77 380.54,499.14" fill="#444"/>
<polygon points="379.10,493.30 380.54,492.46 380.90,490.83 382.14,491.94 383.80,491.77 383.13,493.30 383.80,494.83 382.14,494.66 380.90,495.77 380.54,494.14" fill="#444"/>
<polygon points="392.50,487.00 393.94,486.16 394.30,484.53 395.54,485.64 397.20,485.47 396.53,487.00 397.20,488.53 395.54,488.36 394.30,489.47 393.94,487.84" fill="#444"/>
<polygon points="392.50,482.00 393.94,481.16 394.30,479.53 395.54,480.64 397.20,480.47 396.53,482.00 397.20,483.53 395.54,483.36 394.30,484.47 393.94,482.84" fill="#444"/>
<polygon points="392.50,477.00 393.94,476.16 394.30,474.53 395.54,475.64 397.20,475.47 396.53,477.00 397.20,478.53 395.54,478.36 394.30,479.47 393.94,477.84" fill="#444"/>
<polyline points="422.10,471.50 422.10,435.10 435.50,435.10 435.50,442.80" fill="none" stroke="#222" stroke-width="1.35"/>
<polygon points="423.60,428.20 424.44,429.64 426.07,430.00 424.96,431.24 425.13,432.90 423.60,432.23 422.07,432.90 422.24,431.24 421.13,430.00 422.76,429.64" fill="#444"/>
<polygon points="428.80,428.20 429.64,429.64 431.27,430.00 430.16,431.24 430.33,432.90 428.80,432.23 427.27,432.90 427.44,431.24 426.33,430.00 427.96,429.64" fill="#444"/>
<polygon points="434.00,428.20 434.84,429.64 436.47,430.00 435.36,431.24 435.53,432.90 434.00,432.23 432.47,432.90 432.64,431.24 431.53,430.00 433.16,429.64" fill="#444"/>
<polygon points="419.50,485.60 420.94,484.76 421.30,483.13 422.54,484.24 424.20,484.07 423.53,485.60 424.20,487.13 422.54,486.96 421.30,488.07 420.94,486.44" fill="#444"/>
<polygon points="419.50,480.60 420.94,479.76 421.30,478.13 422.54,479.24 424.20,479.07 423.53,480.60 424.20,482.13 422.54,481.96 421.30,483.07 420.94,481.44" fill="#444"/>
<polygon points="419.50,475.60 420.94,474.76 421.30,473.13 422.54,474.24 424.20,474.07 423.53,475.60 424.20,477.13 422.54,476.96 421.30,478.07 420.94,476.44" fill="#444"/>
<polygon points="432.90,460.30 434.34,459.46 434.70,457.83 435.94,458.94 437.60,458.77 436.93,460.30 437.60,461.83 435.94,461.66 434.70,462.77 434.34,461.14" fill="#444"/>
<polygon points="432.90,455.30 434.34,454.46 434.70,452.83 435.94,453.94 437.60,453.77 436.93,455.30 437.60,456.83 435.94,456.66 434.70,457.77 434.34,456.14" fill="#444"/>
<polygon points="432.90,450.30 434.34,449.46 434.70,447.83 435.94,448.94 437.60,448.77 436.93,450.30 437.60,451.83 435.94,451.66 434.70,452.77 434.34,451.14" fill="#444"/>
<rect x="527.10" y="477.47" width="14.10" height="110.33" fill="#9e0000"/>
<line x1="533.80" y1="477.47" x2="533.80" y2="475.75" stroke="#555" stroke-width="0.8" />
<line x1="530.50" y1="475.75" x2="537.10" y2="475.75" stroke="#555" stroke-width="0.8" />
<rect x="540.50" y="477.47" width="13.40" height="110.33" fill="#044e62"/>
<line x1="547.20" y1="477.47" x2="547.20" y2="475.75" stroke="#555" stroke-width="0.8" />
<line x1="543.90" y1="475.75" x2="550.50" y2="475.75" stroke="#555" stroke-width="0.8" />
<rect x="567.47" y="479.99" width="14.10" height="107.81" fill="#9e0000"/>
<line x1="574.17" y1="479.99" x2="574.17" y2="478.27" stroke="#555" stroke-width="0.8" />
<line x1="570.87" y1="478.27" x2="577.47" y2="478.27" stroke="#555" stroke-width="0.8" />
<rect x="580.87" y="482.28" width="13.40" height="105.52" fill="#044e62"/>
<line x1="587.57" y1="482.28" x2="587.57" y2="480.22" stroke="#555" stroke-width="0.8" />
<line x1="584.27" y1="480.22" x2="590.87" y2="480.22" stroke="#555" stroke-width="0.8" />
<rect x="607.84" y="483.31" width="14.10" height="104.49" fill="#9e0000"/>
<line x1="614.54" y1="483.31" x2="614.54" y2="481.94" stroke="#555" stroke-width="0.8" />
<line x1="611.24" y1="481.94" x2="617.84" y2="481.94" stroke="#555" stroke-width="0.8" />
<rect x="621.24" y="489.27" width="13.40" height="98.53" fill="#044e62"/>
<line x1="627.94" y1="489.27" x2="627.94" y2="487.21" stroke="#555" stroke-width="0.8" />
<line x1="624.64" y1="487.21" x2="631.24" y2="487.21" stroke="#555" stroke-width="0.8" />
<rect x="648.21" y="490.41" width="14.10" height="97.39" fill="#9e0000"/>
<line x1="654.91" y1="490.41" x2="654.91" y2="488.70" stroke="#555" stroke-width="0.8" />
<line x1="651.61" y1="488.70" x2="658.21" y2="488.70" stroke="#555" stroke-width="0.8" />
<rect x="661.61" y="498.21" width="13.40" height="89.59" fill="#044e62"/>
<line x1="668.31" y1="498.21" x2="668.31" y2="496.14" stroke="#555" stroke-width="0.8" />
<line x1="665.01" y1="496.14" x2="671.61" y2="496.14" stroke="#555" stroke-width="0.8" />
<rect x="520.70" y="427.40" width="161.90" height="160.40" fill="none" stroke="#333333" stroke-width="1"/>
<line x1="517.40" y1="587.80" x2="520.70" y2="587.80" stroke="#333333" stroke-width="1" />
<text x="516.10" y="590.90" font-size="8.7" text-anchor="end" font-weight="bold" fill="#111" stroke="#111" stroke-width="0.25" >0</text>
<line x1="517.40" y1="564.89" x2="520.70" y2="564.89" stroke="#333333" stroke-width="1" />
<text x="516.10" y="567.99" font-size="8.7" text-anchor="end" font-weight="bold" fill="#111" stroke="#111" stroke-width="0.25" >20</text>
<line x1="517.40" y1="541.97" x2="520.70" y2="541.97" stroke="#333333" stroke-width="1" />
<text x="516.10" y="545.07" font-size="8.7" text-anchor="end" font-weight="bold" fill="#111" stroke="#111" stroke-width="0.25" >40</text>
<line x1="517.40" y1="519.06" x2="520.70" y2="519.06" stroke="#333333" stroke-width="1" />
<text x="516.10" y="522.16" font-size="8.7" text-anchor="end" font-weight="bold" fill="#111" stroke="#111" stroke-width="0.25" >60</text>
<line x1="517.40" y1="496.14" x2="520.70" y2="496.14" stroke="#333333" stroke-width="1" />
<text x="516.10" y="499.24" font-size="8.7" text-anchor="end" font-weight="bold" fill="#111" stroke="#111" stroke-width="0.25" >80</text>
<line x1="517.40" y1="473.23" x2="520.70" y2="473.23" stroke="#333333" stroke-width="1" />
<text x="516.10" y="476.33" font-size="8.7" text-anchor="end" font-weight="bold" fill="#111" stroke="#111" stroke-width="0.25" >100</text>
<line x1="517.40" y1="450.31" x2="520.70" y2="450.31" stroke="#333333" stroke-width="1" />
<text x="516.10" y="453.41" font-size="8.7" text-anchor="end" font-weight="bold" fill="#111" stroke="#111" stroke-width="0.25" >120</text>
<line x1="517.40" y1="427.40" x2="520.70" y2="427.40" stroke="#333333" stroke-width="1" />
<text x="516.10" y="430.50" font-size="8.7" text-anchor="end" font-weight="bold" fill="#111" stroke="#111" stroke-width="0.25" >140</text>
<line x1="540.50" y1="587.80" x2="540.50" y2="591.10" stroke="#333333" stroke-width="1" />
<text x="540.50" y="600.40" font-size="8.7" text-anchor="middle" font-weight="bold" fill="#111" stroke="#111" stroke-width="0.25" >0</text>
<line x1="580.87" y1="587.80" x2="580.87" y2="591.10" stroke="#333333" stroke-width="1" />
<text x="580.87" y="600.40" font-size="8.7" text-anchor="middle" font-weight="bold" fill="#111" stroke="#111" stroke-width="0.25" >30</text>
<line x1="621.24" y1="587.80" x2="621.24" y2="591.10" stroke="#333333" stroke-width="1" />
<text x="621.24" y="600.40" font-size="8.7" text-anchor="middle" font-weight="bold" fill="#111" stroke="#111" stroke-width="0.25" >60</text>
<line x1="661.61" y1="587.80" x2="661.61" y2="591.10" stroke="#333333" stroke-width="1" />
<text x="661.61" y="600.40" font-size="8.7" text-anchor="middle" font-weight="bold" fill="#111" stroke="#111" stroke-width="0.25" >90</text>
<text x="601.65" y="616.80" font-size="9.2" text-anchor="middle" font-weight="bold" fill="#111" stroke="#111" stroke-width="0.25" textLength="48.8" lengthAdjust="spacingAndGlyphs">Time (day)</text>
<text x="496.20" y="505.60" font-size="9.2" text-anchor="middle" font-weight="bold" fill="#111" stroke="#111" stroke-width="0.25" textLength="31.0" lengthAdjust="spacingAndGlyphs" transform="rotate(-90 496.20 505.60)">EE (%)</text>
<rect x="524.20" y="430.40" width="8.40" height="6.10" fill="#9e0000"/>
<rect x="524.20" y="441.40" width="8.40" height="6.10" fill="#044e62"/>
<text x="537.20" y="436.50" font-size="9.0" text-anchor="start" font-weight="bold" fill="#111" stroke="#111" stroke-width="0.25" >4°C</text>
<text x="537.20" y="447.50" font-size="9.0" text-anchor="start" font-weight="bold" fill="#111" stroke="#111" stroke-width="0.25" >25°C</text>
<text x="474.30" y="436.80" font-size="21" text-anchor="start" font-weight="bold" fill="#111" stroke="#111" stroke-width="0.25" >G</text>
<polygon points="584.97,475.50 586.41,474.66 586.77,473.03 588.01,474.14 589.67,473.97 589.00,475.50 589.67,477.03 588.01,476.86 586.77,477.97 586.41,476.34" fill="#444"/>
<polygon points="584.97,470.50 586.41,469.66 586.77,468.03 588.01,469.14 589.67,468.97 589.00,470.50 589.67,472.03 588.01,471.86 586.77,472.97 586.41,471.34" fill="#444"/>
<polyline points="614.54,466.60 614.54,453.70 627.94,453.70 627.94,468.60" fill="none" stroke="#222" stroke-width="1.35"/>
<polygon points="618.64,446.80 619.48,448.24 621.11,448.60 620.00,449.84 620.17,451.50 618.64,450.83 617.11,451.50 617.28,449.84 616.17,448.60 617.80,448.24" fill="#444"/>
<polygon points="623.84,446.80 624.68,448.24 626.31,448.60 625.20,449.84 625.37,451.50 623.84,450.83 622.31,451.50 622.48,449.84 621.37,448.60 623.00,448.24" fill="#444"/>
<polygon points="611.94,477.70 613.38,476.86 613.74,475.23 614.98,476.34 616.64,476.17 615.97,477.70 616.64,479.23 614.98,479.06 613.74,480.17 613.38,478.54" fill="#444"/>
<polygon points="611.94,472.70 613.38,471.86 613.74,470.23 614.98,471.34 616.64,471.17 615.97,472.70 616.64,474.23 614.98,474.06 613.74,475.17 613.38,473.54" fill="#444"/>
<polygon points="625.34,483.30 626.78,482.46 627.14,480.83 628.38,481.94 630.04,481.77 629.37,483.30 630.04,484.83 628.38,484.66 627.14,485.77 626.78,484.14" fill="#444"/>
<polygon points="625.34,478.30 626.78,477.46 627.14,475.83 628.38,476.94 630.04,476.77 629.37,478.30 630.04,479.83 628.38,479.66 627.14,480.77 626.78,479.14" fill="#444"/>
<polygon points="625.34,473.30 626.78,472.46 627.14,470.83 628.38,471.94 630.04,471.77 629.37,473.30 630.04,474.83 628.38,474.66 627.14,475.77 626.78,474.14" fill="#444"/>
<polyline points="654.91,468.10 654.91,455.30 668.31,455.30 668.31,474.20" fill="none" stroke="#222" stroke-width="1.35"/>
<polygon points="656.41,448.40 657.25,449.84 658.88,450.20 657.77,451.44 657.94,453.10 656.41,452.43 654.88,453.10 655.05,451.44 653.94,450.20 655.57,449.84" fill="#444"/>
<polygon points="661.61,448.40 662.45,449.84 664.08,450.20 662.97,451.44 663.14,453.10 661.61,452.43 660.08,453.10 660.25,451.44 659.14,450.20 660.77,449.84" fill="#444"/>
<polygon points="666.81,448.40 667.65,449.84 669.28,450.20 668.17,451.44 668.34,453.10 666.81,452.43 665.28,453.10 665.45,451.44 664.34,450.20 665.97,449.84" fill="#444"/>
<polygon points="652.31,484.70 653.75,483.86 654.11,482.23 655.35,483.34 657.01,483.17 656.34,484.70 657.01,486.23 655.35,486.06 654.11,487.17 653.75,485.54" fill="#444"/>
<polygon points="652.31,479.70 653.75,478.86 654.11,477.23 655.35,478.34 657.01,478.17 656.34,479.70 657.01,481.23 655.35,481.06 654.11,482.17 653.75,480.54" fill="#444"/>
<polygon points="652.31,474.70 653.75,473.86 654.11,472.23 655.35,473.34 657.01,473.17 656.34,474.70 657.01,476.23 655.35,476.06 654.11,477.17 653.75,475.54" fill="#444"/>
<polygon points="665.71,491.70 667.15,490.86 667.51,489.23 668.75,490.34 670.41,490.17 669.74,491.70 670.41,493.23 668.75,493.06 667.51,494.17 667.15,492.54" fill="#444"/>
<polygon points="665.71,486.70 667.15,485.86 667.51,484.23 668.75,485.34 670.41,485.17 669.74,486.70 670.41,488.23 668.75,488.06 667.51,489.17 667.15,487.54" fill="#444"/>
<polygon points="665.71,481.70 667.15,480.86 667.51,479.23 668.75,480.34 670.41,480.17 669.74,481.70 670.41,483.23 668.75,483.06 667.51,484.17 667.15,482.54" fill="#444"/>
<polyline points="224.40,184.40 227.69,176.41 230.99,166.27 237.57,130.85 250.74,82.67 303.43,66.56 382.47,65.13 461.50,65.13" fill="none" stroke="#9a2c32" stroke-width="0.95" />
<polyline points="224.40,184.40 227.69,179.63 230.99,173.07 237.57,164.01 250.74,151.96 303.43,131.09 382.47,119.28 461.50,116.42" fill="none" stroke="#222a84" stroke-width="0.95" />
<polyline points="224.40,184.40 227.69,178.44 230.99,170.09 237.57,158.28 250.74,138.36 303.43,108.90 382.47,98.53 461.50,92.09" fill="none" stroke="#3a8a6e" stroke-width="0.95" stroke-dasharray="2.5,1.9"/>
<polyline points="224.40,184.40 227.69,181.42 230.99,178.56 237.57,172.00 250.74,165.56 303.43,139.08 382.47,133.71 461.50,126.79" fill="none" stroke="#a82a68" stroke-width="0.95" />
<polyline points="224.40,184.40 227.69,179.63 230.99,172.47 237.57,162.93 250.74,148.62 303.43,122.02 382.47,117.01 461.50,110.10" fill="none" stroke="#b08a3a" stroke-width="0.95" stroke-dasharray="2.5,1.9"/>
<circle cx="224.40" cy="184.40" r="1.85" fill="#000"/>
<line x1="227.69" y1="175.22" x2="227.69" y2="177.60" stroke="#222" stroke-width="0.7" />
<line x1="225.99" y1="175.22" x2="229.39" y2="175.22" stroke="#222" stroke-width="0.7" />
<line x1="225.99" y1="177.60" x2="229.39" y2="177.60" stroke="#222" stroke-width="0.7" />
<circle cx="227.69" cy="176.41" r="1.85" fill="#000"/>
<line x1="230.99" y1="165.08" x2="230.99" y2="167.46" stroke="#222" stroke-width="0.7" />
<line x1="229.29" y1="165.08" x2="232.69" y2="165.08" stroke="#222" stroke-width="0.7" />
<line x1="229.29" y1="167.46" x2="232.69" y2="167.46" stroke="#222" stroke-width="0.7" />
<circle cx="230.99" cy="166.27" r="1.85" fill="#000"/>
<line x1="237.57" y1="129.06" x2="237.57" y2="132.64" stroke="#222" stroke-width="0.7" />
<line x1="235.87" y1="129.06" x2="239.27" y2="129.06" stroke="#222" stroke-width="0.7" />
<line x1="235.87" y1="132.64" x2="239.27" y2="132.64" stroke="#222" stroke-width="0.7" />
<circle cx="237.57" cy="130.85" r="1.85" fill="#000"/>
<line x1="250.74" y1="80.28" x2="250.74" y2="85.05" stroke="#222" stroke-width="0.7" />
<line x1="249.04" y1="80.28" x2="252.44" y2="80.28" stroke="#222" stroke-width="0.7" />
<line x1="249.04" y1="85.05" x2="252.44" y2="85.05" stroke="#222" stroke-width="0.7" />
<circle cx="250.74" cy="82.67" r="1.85" fill="#000"/>
<line x1="303.43" y1="65.61" x2="303.43" y2="67.52" stroke="#222" stroke-width="0.7" />
<line x1="301.73" y1="65.61" x2="305.13" y2="65.61" stroke="#222" stroke-width="0.7" />
<line x1="301.73" y1="67.52" x2="305.13" y2="67.52" stroke="#222" stroke-width="0.7" />
<circle cx="303.43" cy="66.56" r="1.85" fill="#000"/>
<circle cx="382.47" cy="65.13" r="1.85" fill="#000"/>
<circle cx="461.50" cy="65.13" r="1.85" fill="#000"/>
<rect x="222.55" y="182.55" width="3.70" height="3.70" fill="#000"/>
<line x1="227.69" y1="178.44" x2="227.69" y2="180.82" stroke="#222" stroke-width="0.7" />
<line x1="225.99" y1="178.44" x2="229.39" y2="178.44" stroke="#222" stroke-width="0.7" />
<line x1="225.99" y1="180.82" x2="229.39" y2="180.82" stroke="#222" stroke-width="0.7" />
<rect x="225.84" y="177.78" width="3.70" height="3.70" fill="#000"/>
<line x1="230.99" y1="171.88" x2="230.99" y2="174.26" stroke="#222" stroke-width="0.7" />
<line x1="229.29" y1="171.88" x2="232.69" y2="171.88" stroke="#222" stroke-width="0.7" />
<line x1="229.29" y1="174.26" x2="232.69" y2="174.26" stroke="#222" stroke-width="0.7" />
<rect x="229.14" y="171.22" width="3.70" height="3.70" fill="#000"/>
<line x1="237.57" y1="162.81" x2="237.57" y2="165.20" stroke="#222" stroke-width="0.7" />
<line x1="235.87" y1="162.81" x2="239.27" y2="162.81" stroke="#222" stroke-width="0.7" />
<line x1="235.87" y1="165.20" x2="239.27" y2="165.20" stroke="#222" stroke-width="0.7" />
<rect x="235.72" y="162.16" width="3.70" height="3.70" fill="#000"/>
<line x1="250.74" y1="150.17" x2="250.74" y2="153.75" stroke="#222" stroke-width="0.7" />
<line x1="249.04" y1="150.17" x2="252.44" y2="150.17" stroke="#222" stroke-width="0.7" />
<line x1="249.04" y1="153.75" x2="252.44" y2="153.75" stroke="#222" stroke-width="0.7" />
<rect x="248.89" y="150.11" width="3.70" height="3.70" fill="#000"/>
<line x1="303.43" y1="129.90" x2="303.43" y2="132.28" stroke="#222" stroke-width="0.7" />
<line x1="301.73" y1="129.90" x2="305.13" y2="129.90" stroke="#222" stroke-width="0.7" />
<line x1="301.73" y1="132.28" x2="305.13" y2="132.28" stroke="#222" stroke-width="0.7" />
<rect x="301.58" y="129.24" width="3.70" height="3.70" fill="#000"/>
<line x1="382.47" y1="117.49" x2="382.47" y2="121.07" stroke="#222" stroke-width="0.7" />
<line x1="380.77" y1="117.49" x2="384.17" y2="117.49" stroke="#222" stroke-width="0.7" />
<line x1="380.77" y1="121.07" x2="384.17" y2="121.07" stroke="#222" stroke-width="0.7" />
<rect x="380.62" y="117.43" width="3.70" height="3.70" fill="#000"/>
<line x1="461.50" y1="115.23" x2="461.50" y2="117.61" stroke="#222" stroke-width="0.7" />
<line x1="459.80" y1="115.23" x2="463.20" y2="115.23" stroke="#222" stroke-width="0.7" />
<line x1="459.80" y1="117.61" x2="463.20" y2="117.61" stroke="#222" stroke-width="0.7" />
<rect x="459.65" y="114.57" width="3.70" height="3.70" fill="#000"/>
<polygon points="224.40,182.15 226.45,186.05 222.35,186.05" fill="#000"/>
<line x1="227.69" y1="177.24" x2="227.69" y2="179.63" stroke="#222" stroke-width="0.7" />
<line x1="225.99" y1="177.24" x2="229.39" y2="177.24" stroke="#222" stroke-width="0.7" />
<line x1="225.99" y1="179.63" x2="229.39" y2="179.63" stroke="#222" stroke-width="0.7" />
<polygon points="227.69,176.19 229.74,180.09 225.64,180.09" fill="#000"/>
<line x1="230.99" y1="168.90" x2="230.99" y2="171.28" stroke="#222" stroke-width="0.7" />
<line x1="229.29" y1="168.90" x2="232.69" y2="168.90" stroke="#222" stroke-width="0.7" />
<line x1="229.29" y1="171.28" x2="232.69" y2="171.28" stroke="#222" stroke-width="0.7" />
<polygon points="230.99,167.84 233.04,171.74 228.94,171.74" fill="#000"/>
<line x1="237.57" y1="157.09" x2="237.57" y2="159.47" stroke="#222" stroke-width="0.7" />
<line x1="235.87" y1="157.09" x2="239.27" y2="157.09" stroke="#222" stroke-width="0.7" />
<line x1="235.87" y1="159.47" x2="239.27" y2="159.47" stroke="#222" stroke-width="0.7" />
<polygon points="237.57,156.03 239.62,159.93 235.52,159.93" fill="#000"/>
<line x1="250.74" y1="135.98" x2="250.74" y2="140.75" stroke="#222" stroke-width="0.7" />
<line x1="249.04" y1="135.98" x2="252.44" y2="135.98" stroke="#222" stroke-width="0.7" />
<line x1="249.04" y1="140.75" x2="252.44" y2="140.75" stroke="#222" stroke-width="0.7" />
<polygon points="250.74,136.11 252.79,140.01 248.69,140.01" fill="#000"/>
<line x1="303.43" y1="107.12" x2="303.43" y2="110.69" stroke="#222" stroke-width="0.7" />
<line x1="301.73" y1="107.12" x2="305.13" y2="107.12" stroke="#222" stroke-width="0.7" />
<line x1="301.73" y1="110.69" x2="305.13" y2="110.69" stroke="#222" stroke-width="0.7" />
<polygon points="303.43,106.65 305.48,110.55 301.38,110.55" fill="#000"/>
<line x1="382.47" y1="96.74" x2="382.47" y2="100.32" stroke="#222" stroke-width="0.7" />
<line x1="380.77" y1="96.74" x2="384.17" y2="96.74" stroke="#222" stroke-width="0.7" />
<line x1="380.77" y1="100.32" x2="384.17" y2="100.32" stroke="#222" stroke-width="0.7" />
<polygon points="382.47,96.28 384.52,100.18 380.42,100.18" fill="#000"/>
<line x1="461.50" y1="89.70" x2="461.50" y2="94.47" stroke="#222" stroke-width="0.7" />
<line x1="459.80" y1="89.70" x2="463.20" y2="89.70" stroke="#222" stroke-width="0.7" />
<line x1="459.80" y1="94.47" x2="463.20" y2="94.47" stroke="#222" stroke-width="0.7" />
<polygon points="461.50,89.84 463.55,93.74 459.45,93.74" fill="#000"/>
<polygon points="224.40,186.65 226.45,182.75 222.35,182.75" fill="#000"/>
<line x1="227.69" y1="180.23" x2="227.69" y2="182.61" stroke="#222" stroke-width="0.7" />
<line x1="225.99" y1="180.23" x2="229.39" y2="180.23" stroke="#222" stroke-width="0.7" />
<line x1="225.99" y1="182.61" x2="229.39" y2="182.61" stroke="#222" stroke-width="0.7" />
<polygon points="227.69,183.67 229.74,179.77 225.64,179.77" fill="#000"/>
<line x1="230.99" y1="177.36" x2="230.99" y2="179.75" stroke="#222" stroke-width="0.7" />
<line x1="229.29" y1="177.36" x2="232.69" y2="177.36" stroke="#222" stroke-width="0.7" />
<line x1="229.29" y1="179.75" x2="232.69" y2="179.75" stroke="#222" stroke-width="0.7" />
<polygon points="230.99,180.81 233.04,176.91 228.94,176.91" fill="#000"/>
<line x1="237.57" y1="170.80" x2="237.57" y2="173.19" stroke="#222" stroke-width="0.7" />
<line x1="235.87" y1="170.80" x2="239.27" y2="170.80" stroke="#222" stroke-width="0.7" />
<line x1="235.87" y1="173.19" x2="239.27" y2="173.19" stroke="#222" stroke-width="0.7" />
<polygon points="237.57,174.25 239.62,170.35 235.52,170.35" fill="#000"/>
<line x1="250.74" y1="164.36" x2="250.74" y2="166.75" stroke="#222" stroke-width="0.7" />
<line x1="249.04" y1="164.36" x2="252.44" y2="164.36" stroke="#222" stroke-width="0.7" />
<line x1="249.04" y1="166.75" x2="252.44" y2="166.75" stroke="#222" stroke-width="0.7" />
<polygon points="250.74,167.81 252.79,163.91 248.69,163.91" fill="#000"/>
<line x1="303.43" y1="136.69" x2="303.43" y2="141.46" stroke="#222" stroke-width="0.7" />
<line x1="301.73" y1="136.69" x2="305.13" y2="136.69" stroke="#222" stroke-width="0.7" />
<line x1="301.73" y1="141.46" x2="305.13" y2="141.46" stroke="#222" stroke-width="0.7" />
<polygon points="303.43,141.33 305.48,137.43 301.38,137.43" fill="#000"/>
<line x1="382.47" y1="132.52" x2="382.47" y2="134.90" stroke="#222" stroke-width="0.7" />
<line x1="380.77" y1="132.52" x2="384.17" y2="132.52" stroke="#222" stroke-width="0.7" />
<line x1="380.77" y1="134.90" x2="384.17" y2="134.90" stroke="#222" stroke-width="0.7" />
<polygon points="382.47,135.96 384.52,132.06 380.42,132.06" fill="#000"/>
<line x1="461.50" y1="124.41" x2="461.50" y2="129.18" stroke="#222" stroke-width="0.7" />
<line x1="459.80" y1="124.41" x2="463.20" y2="124.41" stroke="#222" stroke-width="0.7" />
<line x1="459.80" y1="129.18" x2="463.20" y2="129.18" stroke="#222" stroke-width="0.7" />
<polygon points="461.50,129.04 463.55,125.14 459.45,125.14" fill="#000"/>
<polygon points="224.40,182.25 226.25,184.40 224.40,186.55 222.55,184.40" fill="#000"/>
<line x1="227.69" y1="178.44" x2="227.69" y2="180.82" stroke="#222" stroke-width="0.7" />
<line x1="225.99" y1="178.44" x2="229.39" y2="178.44" stroke="#222" stroke-width="0.7" />
<line x1="225.99" y1="180.82" x2="229.39" y2="180.82" stroke="#222" stroke-width="0.7" />
<polygon points="227.69,177.48 229.54,179.63 227.69,181.78 225.84,179.63" fill="#000"/>
<line x1="230.99" y1="171.28" x2="230.99" y2="173.67" stroke="#222" stroke-width="0.7" />
<line x1="229.29" y1="171.28" x2="232.69" y2="171.28" stroke="#222" stroke-width="0.7" />
<line x1="229.29" y1="173.67" x2="232.69" y2="173.67" stroke="#222" stroke-width="0.7" />
<polygon points="230.99,170.32 232.84,172.47 230.99,174.62 229.14,172.47" fill="#000"/>
<line x1="237.57" y1="161.74" x2="237.57" y2="164.12" stroke="#222" stroke-width="0.7" />
<line x1="235.87" y1="161.74" x2="239.27" y2="161.74" stroke="#222" stroke-width="0.7" />
<line x1="235.87" y1="164.12" x2="239.27" y2="164.12" stroke="#222" stroke-width="0.7" />
<polygon points="237.57,160.78 239.42,162.93 237.57,165.08 235.72,162.93" fill="#000"/>
<line x1="250.74" y1="146.23" x2="250.74" y2="151.01" stroke="#222" stroke-width="0.7" />
<line x1="249.04" y1="146.23" x2="252.44" y2="146.23" stroke="#222" stroke-width="0.7" />
<line x1="249.04" y1="151.01" x2="252.44" y2="151.01" stroke="#222" stroke-width="0.7" />
<polygon points="250.74,146.47 252.59,148.62 250.74,150.77 248.89,148.62" fill="#000"/>
<line x1="303.43" y1="119.64" x2="303.43" y2="124.41" stroke="#222" stroke-width="0.7" />
<line x1="301.73" y1="119.64" x2="305.13" y2="119.64" stroke="#222" stroke-width="0.7" />
<line x1="301.73" y1="124.41" x2="305.13" y2="124.41" stroke="#222" stroke-width="0.7" />
<polygon points="303.43,119.87 305.28,122.02 303.43,124.17 301.58,122.02" fill="#000"/>
<line x1="382.47" y1="115.23" x2="382.47" y2="118.80" stroke="#222" stroke-width="0.7" />
<line x1="380.77" y1="115.23" x2="384.17" y2="115.23" stroke="#222" stroke-width="0.7" />
<line x1="380.77" y1="118.80" x2="384.17" y2="118.80" stroke="#222" stroke-width="0.7" />
<polygon points="382.47,114.86 384.32,117.01 382.47,119.16 380.62,117.01" fill="#000"/>
<line x1="461.50" y1="108.31" x2="461.50" y2="111.89" stroke="#222" stroke-width="0.7" />
<line x1="459.80" y1="108.31" x2="463.20" y2="108.31" stroke="#222" stroke-width="0.7" />
<line x1="459.80" y1="111.89" x2="463.20" y2="111.89" stroke="#222" stroke-width="0.7" />
<polygon points="461.50,107.95 463.35,110.10 461.50,112.25 459.65,110.10" fill="#000"/>
<rect x="224.40" y="5.50" width="247.20" height="178.90" fill="none" stroke="#333333" stroke-width="1"/>
<line x1="221.10" y1="184.40" x2="224.40" y2="184.40" stroke="#333333" stroke-width="1" />
<text x="219.80" y="187.50" font-size="8.7" text-anchor="end" font-weight="bold" fill="#111" stroke="#111" stroke-width="0.25" >0</text>
<line x1="221.10" y1="148.62" x2="224.40" y2="148.62" stroke="#333333" stroke-width="1" />
<text x="219.80" y="151.72" font-size="8.7" text-anchor="end" font-weight="bold" fill="#111" stroke="#111" stroke-width="0.25" >30</text>
<line x1="221.10" y1="112.84" x2="224.40" y2="112.84" stroke="#333333" stroke-width="1" />
<text x="219.80" y="115.94" font-size="8.7" text-anchor="end" font-weight="bold" fill="#111" stroke="#111" stroke-width="0.25" >60</text>
<line x1="221.10" y1="77.06" x2="224.40" y2="77.06" stroke="#333333" stroke-width="1" />
<text x="219.80" y="80.16" font-size="8.7" text-anchor="end" font-weight="bold" fill="#111" stroke="#111" stroke-width="0.25" >90</text>
<line x1="221.10" y1="41.28" x2="224.40" y2="41.28" stroke="#333333" stroke-width="1" />
<text x="219.80" y="44.38" font-size="8.7" text-anchor="end" font-weight="bold" fill="#111" stroke="#111" stroke-width="0.25" >120</text>
<line x1="221.10" y1="5.50" x2="224.40" y2="5.50" stroke="#333333" stroke-width="1" />
<text x="219.80" y="8.60" font-size="8.7" text-anchor="end" font-weight="bold" fill="#111" stroke="#111" stroke-width="0.25" >150</text>
<line x1="224.40" y1="184.40" x2="224.40" y2="187.70" stroke="#333333" stroke-width="1" />
<text x="224.40" y="197.40" font-size="8.7" text-anchor="middle" font-weight="bold" fill="#111" stroke="#111" stroke-width="0.25" >0</text>
<line x1="263.92" y1="184.40" x2="263.92" y2="187.70" stroke="#333333" stroke-width="1" />
<text x="263.92" y="197.40" font-size="8.7" text-anchor="middle" font-weight="bold" fill="#111" stroke="#111" stroke-width="0.25" >12</text>
<line x1="303.43" y1="184.40" x2="303.43" y2="187.70" stroke="#333333" stroke-width="1" />
<text x="303.43" y="197.40" font-size="8.7" text-anchor="middle" font-weight="bold" fill="#111" stroke="#111" stroke-width="0.25" >24</text>
<line x1="342.95" y1="184.40" x2="342.95" y2="187.70" stroke="#333333" stroke-width="1" />
<text x="342.95" y="197.40" font-size="8.7" text-anchor="middle" font-weight="bold" fill="#111" stroke="#111" stroke-width="0.25" >36</text>
<line x1="382.47" y1="184.40" x2="382.47" y2="187.70" stroke="#333333" stroke-width="1" />
<text x="382.47" y="197.40" font-size="8.7" text-anchor="middle" font-weight="bold" fill="#111" stroke="#111" stroke-width="0.25" >48</text>
<line x1="421.98" y1="184.40" x2="421.98" y2="187.70" stroke="#333333" stroke-width="1" />
<text x="421.98" y="197.40" font-size="8.7" text-anchor="middle" font-weight="bold" fill="#111" stroke="#111" stroke-width="0.25" >60</text>
<line x1="461.50" y1="184.40" x2="461.50" y2="187.70" stroke="#333333" stroke-width="1" />
<text x="461.50" y="197.40" font-size="8.7" text-anchor="middle" font-weight="bold" fill="#111" stroke="#111" stroke-width="0.25" >72</text>
<text x="348.00" y="211.60" font-size="10.1" text-anchor="middle" font-weight="bold" fill="#111" stroke="#111" stroke-width="0.25" >Time (h)</text>
<text x="200.20" y="92.50" font-size="10.1" text-anchor="middle" font-weight="bold" fill="#111" stroke="#111" stroke-width="0.25" transform="rotate(-90 200.20 92.50)">Cumulative drug release (%)</text>
<text x="174.30" y="16.60" font-size="21.3" text-anchor="start" font-weight="bold" fill="#111" stroke="#111" stroke-width="0.25" >A</text>
<line x1="226.9" y1="10.75" x2="236.8" y2="10.75" stroke="#9a2c32" stroke-width="0.9" />
<circle cx="231.80" cy="10.75" r="1.70" fill="#000"/>
<text x="241.30" y="14.15" font-size="9.4" text-anchor="start" font-weight="bold" fill="#000" stroke="#000" stroke-width="0.25" xml:space="preserve">Free BV</text>
<line x1="226.9" y1="21.40" x2="236.8" y2="21.40" stroke="#222a84" stroke-width="0.9" />
<rect x="230.10" y="19.70" width="3.40" height="3.40" fill="#000"/>
<text x="241.30" y="24.80" font-size="9.4" text-anchor="start" font-weight="bold" fill="#000" stroke="#000" stroke-width="0.25" xml:space="preserve">Lipo-BV (pH 7.4)</text>
<line x1="226.9" y1="32.05" x2="236.8" y2="32.05" stroke="#3a8a6e" stroke-width="0.9" stroke-dasharray="2.5,1.9"/>
<polygon points="231.80,29.95 233.70,33.55 229.90,33.55" fill="#000"/>
<text x="241.30" y="35.45" font-size="9.4" text-anchor="start" font-weight="bold" fill="#000" stroke="#000" stroke-width="0.25" xml:space="preserve">Lipo-BV (pH 5.4)</text>
<line x1="226.9" y1="42.70" x2="236.8" y2="42.70" stroke="#a82a68" stroke-width="0.9" />
<polygon points="231.80,44.80 233.70,41.20 229.90,41.20" fill="#000"/>
<text x="241.30" y="46.10" font-size="9.4" text-anchor="start" font-weight="bold" fill="#000" stroke="#000" stroke-width="0.25" xml:space="preserve">Lipo-BV@PEG&#160; (pH 7.4)</text>
<line x1="226.9" y1="53.35" x2="236.8" y2="53.35" stroke="#b08a3a" stroke-width="0.9" stroke-dasharray="2.5,1.9"/>
<polygon points="231.80,51.35 233.50,53.35 231.80,55.35 230.10,53.35" fill="#000"/>
<text x="241.30" y="56.75" font-size="9.4" text-anchor="start" font-weight="bold" fill="#000" stroke="#000" stroke-width="0.25" xml:space="preserve">Lipo-BV@PEG&#160; (pH 5.4)</text>
</svg></body></html>
